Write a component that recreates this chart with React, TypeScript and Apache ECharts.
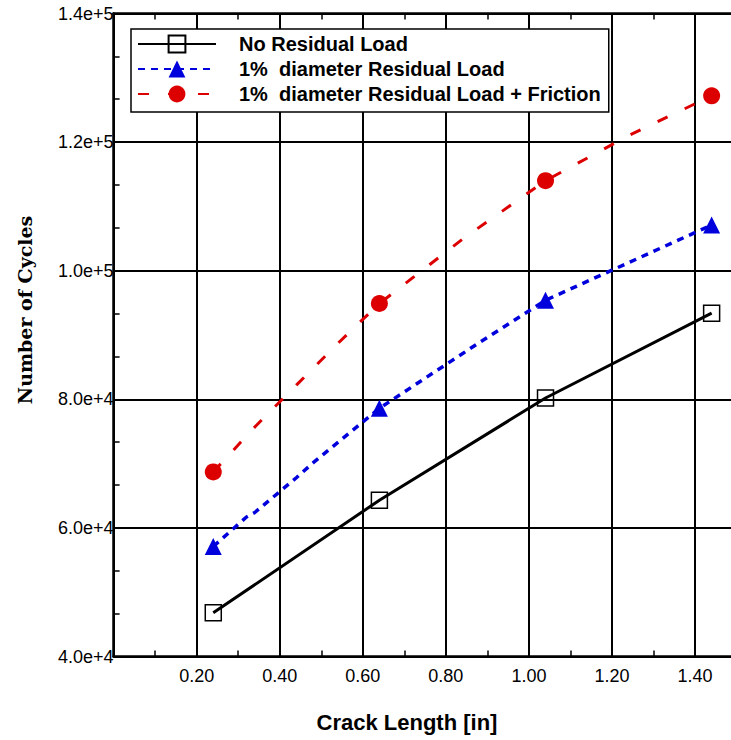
import React, { useEffect, useRef } from "react";
import * as echarts from "echarts";

// Marker positions (crack length, in)
const crackLength = [0.24, 0.64, 1.04, 1.44];
// Series 1: No Residual Load
const noResidualCycles = [46800, 64300, 80200, 93400];
// Series 2: 1% diameter Residual Load (line has intermediate points)
const residualX = [0.24, 0.32, 0.34, 0.44, 0.48, 0.64, 0.88, 1.04, 1.44];
const residualCycles = [57100, 61700, 62400, 67800, 70100, 78600, 88800, 95400, 107100];
// Series 3: 1% diameter Residual Load + Friction
const frictionX = [0.24, 0.34, 0.44, 0.54, 0.64, 0.84, 1.04, 1.24, 1.44];
const frictionCycles = [68700, 75700, 82200, 88700, 94900, 104900, 114000, 121000, 127200];

const seriesNames = [
  "No Residual Load",
  "1%  diameter Residual Load",
  "1%  diameter Residual Load + Friction",
];
const xTitle = "Crack Length [in]";
const yTitle = "Number of Cycles";

const SANS = '"Liberation Sans", Arial, sans-serif';

function withMarkers(xs: number[], ys: number[]) {
  return xs.map((x, i) =>
    crackLength.includes(x) ? [x, ys[i]] : { value: [x, ys[i]], symbol: "none" }
  );
}

export default function App() {
  const ref = useRef<HTMLDivElement>(null);
  useEffect(() => {
    const chart = echarts.init(ref.current!, null, { renderer: "svg", width: 731, height: 740 });
    const xMin = 0;
    const xMax = 1.6;
    const pxPerUnit = 415.3;
    const axisCommon = {
      type: "value" as const,
      min: xMin,
      max: xMax,
      interval: 0.2,
      axisLine: { show: true, onZero: false, lineStyle: { color: "#000", width: 2.5 } },
      axisTick: { show: true, inside: true, length: 6, lineStyle: { color: "#000", width: 1.5 } },
      minorTick: { show: true, splitNumber: 2, length: 6, lineStyle: { color: "#000", width: 1.5 } },
    };
    chart.setOption({
      animation: false,
      backgroundColor: "#fff",
      grid: {
        left: 113.6,
        top: 13.5,
        width: (xMax - xMin) * pxPerUnit,
        height: 643,
        containLabel: false,
        outerBoundsMode: "none",
      },
      legend: {
        show: true,
        orient: "vertical",
        left: 131,
        top: 29,
        selectedMode: false,
        data: seriesNames,
        itemWidth: 78,
        itemHeight: 21,
        itemGap: 4,
        padding: [4.5, 8, 7.5, 6],
        backgroundColor: "#fff",
        borderColor: "#000",
        borderWidth: 1.5,
        textStyle: {
          fontSize: 20,
          fontWeight: "bold",
          fontFamily: SANS,
          color: "#000",
          lineHeight: 21,
          padding: [0, 0, 0, 18],
        },
      },
      xAxis: [
        {
          ...axisCommon,
          position: "bottom",
          splitLine: { show: true, lineStyle: { color: "#000", width: 2 } },
          axisLabel: {
            show: true,
            margin: 10,
            fontSize: 18,
            fontFamily: SANS,
            color: "#000",
            formatter: (v: number) => (v > 0.01 && v < 1.41 ? v.toFixed(2) : ""),
          },
        },
        {
          ...axisCommon,
          position: "top",
          splitLine: { show: false },
          axisLabel: { show: false },
        },
      ],
      yAxis: {
        type: "value",
        min: 40000,
        max: 140000,
        interval: 20000,
        axisLine: { show: true, onZero: false, lineStyle: { color: "#000", width: 2.5 } },
        axisTick: { show: true, inside: true, length: 6, lineStyle: { color: "#000", width: 1.5 } },
        minorTick: { show: true, splitNumber: 3, length: 6, lineStyle: { color: "#000", width: 1.5 } },
        splitLine: { show: true, lineStyle: { color: "#000", width: 2 } },
        axisLabel: {
          show: true,
          margin: 0,
          fontSize: 18,
          fontFamily: SANS,
          color: "#000",
          formatter: (v: number) => v.toExponential(1),
        },
      },
      series: [
        {
          name: seriesNames[0],
          type: "line",
          xAxisIndex: 0,
          data: crackLength.map((x, i) => [x, noResidualCycles[i]]),
          symbol: "rect",
          symbolSize: 16,
          itemStyle: { color: "rgba(255,255,255,0)", borderColor: "#000", borderWidth: 1.5 },
          lineStyle: { color: "#000", width: 3, type: "solid" },
          z: 3,
        },
        {
          name: seriesNames[1],
          type: "line",
          xAxisIndex: 0,
          data: withMarkers(residualX, residualCycles),
          symbol: "triangle",
          symbolSize: 17,
          itemStyle: { color: "#0000dd" },
          lineStyle: { color: "#0000dd", width: 3.5, type: [7, 6] },
          z: 3,
        },
        {
          name: seriesNames[2],
          type: "line",
          xAxisIndex: 0,
          data: withMarkers(frictionX, frictionCycles),
          symbol: "circle",
          symbolSize: 17,
          itemStyle: { color: "#dd0000" },
          lineStyle: { color: "#dd0000", width: 3, type: [11, 19] },
          z: 3,
        },
      ],
      graphic: [
        {
          type: "text",
          x: 25,
          y: 310,
          rotation: Math.PI / 2,
          style: {
            text: yTitle,
            fontSize: 19,
            fontWeight: "bold",
            fontFamily: '"DejaVu Serif", "Liberation Serif", serif',
            fill: "#000",
            align: "center",
            verticalAlign: "middle",
          },
        },
        {
          type: "text",
          x: 407,
          y: 722,
          style: {
            text: xTitle,
            fontSize: 22,
            fontWeight: "bold",
            fontFamily: SANS,
            fill: "#000",
            align: "center",
            verticalAlign: "middle",
          },
        },
      ],
    });
    return () => chart.dispose();
  }, []);
  return (
    <div
      ref={ref}
      style={{ position: "absolute", left: 0, top: 0, width: 731, height: 740, overflow: "hidden", background: "#fff" }}
    />
  );
}
